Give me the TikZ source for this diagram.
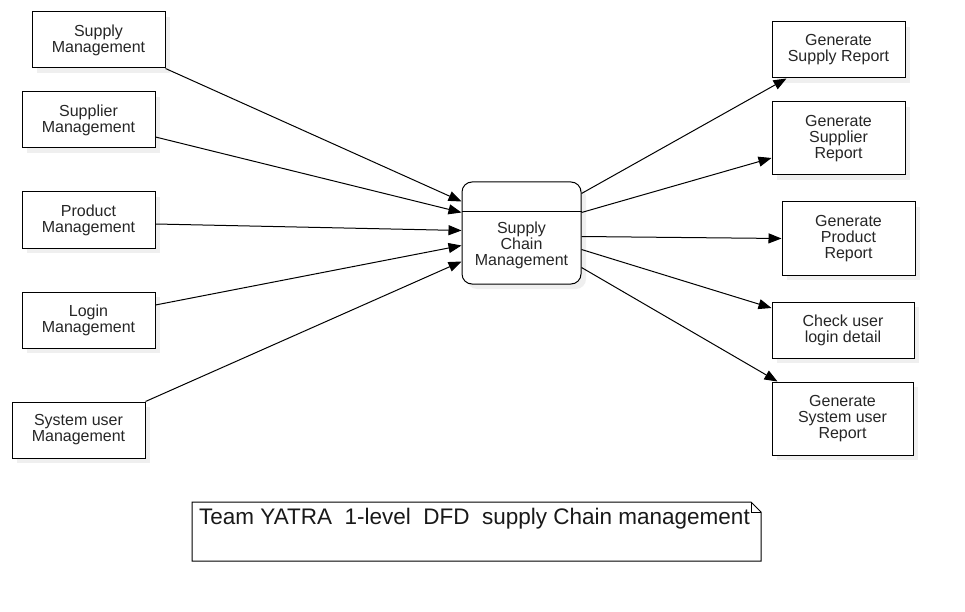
\documentclass[tikz,border=0pt]{standalone}
\usepackage{fontspec}
\setmainfont{Liberation Sans}
\usetikzlibrary{arrows.meta,shadows}
\begin{document}
\begin{tikzpicture}[x=1pt,y=-1pt,
  box/.style={draw=black,line width=1pt,fill=white,align=center,inner sep=2pt,
    font=\fontsize{16}{16}\selectfont,text=black!85,
    drop shadow={shadow xshift=5pt,shadow yshift=-5pt,fill=black!10,opacity=0.6}},
  flow/.style={line width=1pt,-{Triangle[length=13pt,width=10pt]}}]
\useasboundingbox[fill=white] (0,0) rectangle (965,612);
% left boxes
\node[box,minimum width=133pt,minimum height=56pt] (sm) at (98.5,40) {Supply\\Management};
\node[box,minimum width=133pt,minimum height=56pt] (spm) at (88.5,120) {Supplier\\Management};
\node[box,minimum width=133pt,minimum height=56pt] (pm) at (88.5,220) {Product\\Management};
\node[box,minimum width=133pt,minimum height=56pt] (lm) at (88.5,320) {Login\\Management};
\node[box,minimum width=133pt,minimum height=56pt] (sum) at (78.5,430) {System user\\Management};
% centre process
\node[box,rounded corners=10pt,minimum width=119pt,minimum height=102pt] (c) at (521.5,233) {};
\draw[line width=1pt] ([yshift=-30pt]c.north west) -- ([yshift=-30pt]c.north east);
\node[align=center,font=\fontsize{16}{16}\selectfont,text=black!85] (ct) at (521.5,245) {Supply\\Chain\\Management};
% right boxes
\node[box,minimum width=133pt,minimum height=56pt] (r1) at (838.5,50) {Generate\\Supply Report};
\node[box,minimum width=133pt,minimum height=73pt] (r2) at (838.5,138.5) {Generate\\Supplier\\Report};
\node[box,minimum width=133pt,minimum height=73pt] (r3) at (848.5,238.5) {Generate\\Product\\Report};
\node[box,minimum width=142pt,minimum height=56pt] (r4) at (843,330) {Check user\\login detail};
\node[box,minimum width=141pt,minimum height=73pt] (r5) at (842.5,418.5) {Generate\\System user\\Report};
% inputs
\draw[flow] (sm.south east) -- ([yshift=-20pt]c.north west);
\draw[flow] ([yshift=-17pt]spm.east) -- ([yshift=-31pt]c.north west);
\draw[flow] ([yshift=-4pt]pm.east) -- ([yshift=-49pt]c.north west);
\draw[flow] ([yshift=15pt]lm.east) -- ([yshift=-64pt]c.north west);
\draw[flow] (sum.north east) -- ([yshift=-80pt]c.north west);
% outputs
\draw[flow] ([yshift=-12pt]c.north east) -- ([xshift=15pt]r1.south west);
\draw[flow] ([yshift=-31pt]c.north east) -- ([yshift=-19.5pt]r2.west);
\draw[flow] ([yshift=-55pt]c.north east) -- (r3.west);
\draw[flow] ([yshift=-68pt]c.north east) -- ([yshift=22pt]r4.west);
\draw[flow] ([yshift=-86pt]c.north east) -- ([xshift=6pt]r5.north west);
% note
\coordinate (n1) at (192,502);
\coordinate (n2) at (751,502);
\coordinate (n3) at (761,512);
\coordinate (n4) at (761,561);
\coordinate (n5) at (192,561);
\draw[line width=1pt,fill=white] (n1) -- (n2) -- (n3) -- (n4) -- (n5) -- cycle;
\draw[line width=1pt] (n2) -- (751,512) -- (n3);
\node[anchor=west,inner sep=0pt,font=\fontsize{22.5}{26}\selectfont,text=black!90] (title) at (199,519) {Team YATRA\ \ 1-level\ \ DFD\ \ supply Chain management};
\end{tikzpicture}
\end{document}
